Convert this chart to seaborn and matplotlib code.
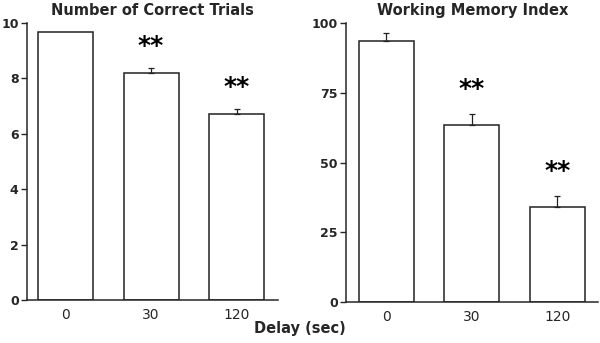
import pandas as pd
import numpy as np
import matplotlib.pyplot as plt
import seaborn as sns

sns.set_style('ticks')
plt.rcParams['font.family'] = ['DejaVu Sans']

# dati
delays = ['0', '30', '120']
correct_trials = [9.69, 8.18, 6.70]
correct_err = [0.0, 0.18, 0.20]
wm_index = [93.6, 63.5, 33.9]
wm_err = [2.8, 3.8, 4.1]
stars_left = ['', '**', '**']
stars_right = ['', '**', '**']

fig = plt.figure(figsize=(6, 3.43), dpi=100)
ax1 = fig.add_axes([0.045, 0.125, 0.418, 0.808])
ax2 = fig.add_axes([0.577, 0.12, 0.42, 0.812])

def pannello(ax, valori, errori, stelle, titolo, ymax, yticks, star_off, xlim):
    df = pd.DataFrame({'Delay': delays, 'Valore': valori})
    sns.barplot(data=df, x='Delay', y='Valore', ax=ax, color='white',
                edgecolor='#222222', linewidth=1.1, width=0.64, errorbar=None)
    x = np.arange(len(valori))
    for i in range(len(valori)):
        if errori[i] > 0:
            ax.errorbar(x[i], valori[i], yerr=[[0], [errori[i]]], fmt='none',
                        ecolor='#222222', elinewidth=0.9, capsize=2.5, capthick=0.9)
        if stelle[i]:
            ax.text(x[i], valori[i] + errori[i] + star_off, stelle[i], ha='center',
                    va='center', fontsize=18, fontweight='bold', color='black')
    ax.set_ylim(0, ymax)
    ax.set_xlim(*xlim)
    ax.set_yticks(yticks)
    ax.set_yticklabels([str(t) for t in yticks], fontweight='bold', fontsize=9)
    ax.tick_params(axis='y', length=4, width=1, pad=2)
    ax.tick_params(axis='x', length=0, labelsize=10, pad=6)
    ax.set_xlabel('')
    ax.set_ylabel('')
    ax.set_title(titolo, fontweight='bold', fontsize=10.5, pad=6)
    sns.despine(ax=ax)
    ax.spines['left'].set_linewidth(1.1)
    ax.spines['bottom'].set_linewidth(1.1)

pannello(ax1, correct_trials, correct_err, stars_left, 'Number of Correct Trials',
         10, [0, 2, 4, 6, 8, 10], 0.8, (-0.45, 2.48))
pannello(ax2, wm_index, wm_err, stars_right, 'Working Memory Index',
         100, [0, 25, 50, 75, 100], 9, (-0.47, 2.48))

fig.text(0.5, 0.02, 'Delay (sec)', ha='center', va='bottom', fontweight='bold', fontsize=10.5)

plt.savefig('out.png', dpi=100)
